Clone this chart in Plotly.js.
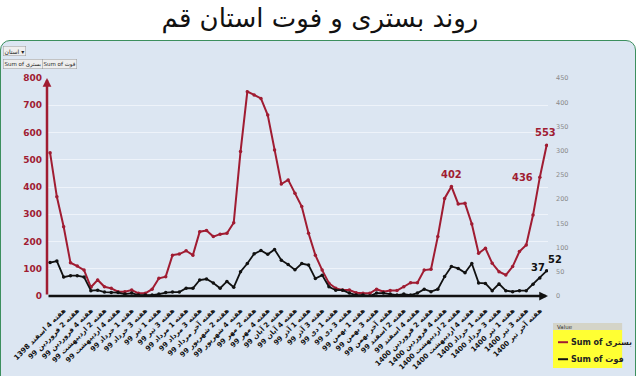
<!DOCTYPE html>
<html>
<head>
<meta charset="utf-8">
<script src="https://cdn.plot.ly/plotly-3.0.1.min.js"></script>
<style>
  html, body { margin:0; padding:0; width:640px; height:376px; overflow:hidden; background:#ffffff; }
  #panel { position:absolute; left:0px; top:40px; width:634px; height:360px; border:1.5px solid #3c8f5e; border-radius:10px; background:#dce6f2; }
  #chart { position:absolute; left:0; top:0; width:640px; height:376px; }
</style>
</head>
<body>
<div id="panel"></div>
<div id="chart"></div>
<script>
// Tick labels (every other week)
const weekLabels = [
  "هفته 1 و 2 اسفند 1398", "هفته 4 اسفند 1398", "هفته 2 فروردین 99", "هفته 4 فروردین 99",
  "هفته 2 اردیبهشت 99", "هفته 4 اردیبهشت 99", "هفته 1 خرداد 99", "هفته 3 خرداد 99",
  "هفته 1 تیر 99", "هفته 3 تیر 99", "هفته 1 مرداد 99", "هفته 3 مرداد 99",
  "هفته آخر مرداد 99", "هفته 2 شهریور 99", "هفته 4 شهریور 99", "هفته 2 مهر 99",
  "هفته 4 مهر 99", "هفته 2 آبان 99", "هفته 4 آبان 99", "هفته 1 آذر 99",
  "هفته 3 آذر 99", "هفته 1 دی 99", "هفته 3 دی 99", "هفته 1 بهمن 99",
  "هفته 3 بهمن 99", "هفته آخر بهمن 99", "هفته 2 اسفند 99", "هفته 4 اسفند 99",
  "هفته 2 فروردین 1400", "هفته 4 فروردین 1400", "هفته 2 اردیبهشت 1400", "هفته 4 اردیبهشت 1400",
  "هفته 1 خرداد 1400", "هفته 3 خرداد 1400", "هفته 1 تیر 1400", "هفته 3 تیر 1400",
  "هفته آخر تیر 1400"
];

// Weekly hospitalisations (بستری) - left axis
const hospital = [
  526, 364, 254, 122, 110, 95, 32, 59, 34, 28,
  16, 16, 22, 10, 10, 25, 65, 71, 150, 154,
  166, 150, 236, 240, 218, 227, 230, 269, 530, 750,
  738, 725, 664, 536, 411, 426, 377, 328, 230, 150,
  95, 47, 28, 22, 22, 12, 10, 10, 25, 16,
  20, 20, 34, 49, 49, 95, 98, 218, 358, 402,
  338, 340, 264, 157, 175, 120, 89, 77, 108, 163,
  187, 297, 436, 553
];

// Weekly deaths (فوت) - right axis
const deaths = [
  69, 72, 39, 42, 42, 39, 11, 12, 8, 7,
  7, 4, 6, 2, 2, 2, 4, 7, 8, 8,
  16, 16, 33, 35, 27, 16, 30, 18, 50, 67,
  87, 94, 86, 96, 74, 65, 54, 67, 64, 36,
  43, 19, 12, 12, 6, 2, 2, 0, 6, 6,
  4, 2, 4, 2, 6, 14, 9, 14, 40, 61,
  57, 48, 67, 27, 26, 11, 25, 11, 9, 11,
  11, 24, 37, 52
];

const weekIdx = hospital.map((_, i) => i);
const tickIdx = weekLabels.map((_, i) => i * 2);
const rtl = s => '\u202B' + s + '\u202C';

const RED = '#a01c32';
const BLACK = '#111111';
const FA = 'DejaVu Sans, sans-serif';
const NUM = 'DejaVu Sans Condensed, DejaVu Sans, sans-serif';

const traces = [
  { x: weekIdx, y: hospital, type: 'scatter', mode: 'lines+markers', name: 'Sum of بستری',
    line: { color: RED, width: 2 }, marker: { color: RED, size: 3.5 }, yaxis: 'y' },
  { x: weekIdx, y: deaths, type: 'scatter', mode: 'lines+markers', name: 'Sum of فوت',
    line: { color: BLACK, width: 1.8 }, marker: { color: BLACK, size: 3.5 }, yaxis: 'y2' }
];

const numFont = c => ({ family: NUM, size: 11, color: c, weight: 'bold', stretch: 'condensed' });
const annotations = [];
annotations.push({ x: 59, y: hospital[59], xref: 'x', yref: 'y', text: String(hospital[59]), showarrow: false,
  yanchor: 'bottom', yshift: 3, font: numFont(RED) });
annotations.push({ x: 72, y: hospital[72], xref: 'x', yref: 'y', text: String(hospital[72]), showarrow: false,
  xanchor: 'right', xshift: -5, font: numFont(RED) });
annotations.push({ x: 73, y: hospital[73], xref: 'x', yref: 'y', text: String(hospital[73]), showarrow: false,
  yanchor: 'bottom', xshift: -1, yshift: 4, font: numFont(RED) });
annotations.push({ x: 72, y: deaths[72], xref: 'x', yref: 'y2', text: String(deaths[72]), showarrow: false,
  yanchor: 'bottom', xshift: -2, yshift: 2, font: numFont(BLACK) });
annotations.push({ x: 73, y: deaths[73], xref: 'x', yref: 'y2', text: String(deaths[73]), showarrow: false,
  yanchor: 'bottom', xanchor: 'left', xshift: -1, yshift: 3, font: numFont(BLACK) });

// axis arrows
annotations.push({ x: 0, y: 1, xref: 'paper', yref: 'paper', ax: 0, ay: 218, axref: 'pixel', ayref: 'pixel',
  showarrow: true, arrowhead: 2, arrowsize: 0.7, arrowwidth: 2.5, arrowcolor: RED, text: '' });
annotations.push({ x: 1, y: 0, xref: 'paper', yref: 'paper', ax: -501, ay: 0, axref: 'pixel', ayref: 'pixel',
  showarrow: true, arrowhead: 2, arrowsize: 0.7, arrowwidth: 2.5, arrowcolor: BLACK, text: '' });

// pivot field buttons
annotations.push({ x: -0.088, y: 1.125, xref: 'paper', yref: 'paper', xanchor: 'left', yanchor: 'middle',
  text: 'استان ▾', showarrow: false, bgcolor: '#eeeeee', bordercolor: '#999999', borderwidth: 0.5, borderpad: 1,
  font: { family: FA, size: 6, color: '#222' } });
annotations.push({ x: -0.088, y: 1.065, xref: 'paper', yref: 'paper', xanchor: 'left', yanchor: 'middle',
  text: 'Sum of بستری', showarrow: false, bgcolor: '#eeeeee', bordercolor: '#999999', borderwidth: 0.5, borderpad: 1,
  font: { family: FA, size: 5.5, color: '#222' } });
annotations.push({ x: -0.01, y: 1.065, xref: 'paper', yref: 'paper', xanchor: 'left', yanchor: 'middle',
  text: 'Sum of فوت', showarrow: false, bgcolor: '#eeeeee', bordercolor: '#999999', borderwidth: 0.5, borderpad: 1,
  font: { family: FA, size: 5.5, color: '#222' } });

// custom legend box text
annotations.push({ x: 1.013, y: -0.14, xref: 'paper', yref: 'paper', xanchor: 'left', yanchor: 'middle',
  text: 'Value', showarrow: false, font: { family: FA, size: 5.5, color: '#333' } });
annotations.push({ x: 1.042, y: -0.212, xref: 'paper', yref: 'paper', xanchor: 'left', yanchor: 'middle',
  text: 'Sum of بستری', showarrow: false, font: { family: FA, size: 8, color: '#222', weight: 'bold' } });
annotations.push({ x: 1.042, y: -0.29, xref: 'paper', yref: 'paper', xanchor: 'left', yanchor: 'middle',
  text: 'Sum of فوت', showarrow: false, font: { family: FA, size: 8, color: '#222', weight: 'bold' } });

const shapes = [
  { type: 'rect', xref: 'paper', yref: 'paper', x0: 1.010, x1: 1.148, y0: -0.124, y1: -0.156,
    fillcolor: '#d4d4c8', line: { width: 0 } },
  { type: 'rect', xref: 'paper', yref: 'paper', x0: 1.010, x1: 1.148, y0: -0.156, y1: -0.330,
    fillcolor: '#ffff33', line: { width: 0 } },
  { type: 'line', xref: 'paper', yref: 'paper', x0: 1.02, x1: 1.04, y0: -0.212, y1: -0.212,
    line: { color: RED, width: 2 } },
  { type: 'line', xref: 'paper', yref: 'paper', x0: 1.02, x1: 1.04, y0: -0.29, y1: -0.29,
    line: { color: BLACK, width: 2 } }
];

const layout = {
  width: 640, height: 376,
  margin: { l: 47, r: 92, t: 78, b: 80, pad: 0 },
  paper_bgcolor: 'rgba(0,0,0,0)',
  plot_bgcolor: 'rgba(0,0,0,0)',
  showlegend: false,
  title: { text: 'روند بستری و فوت استان قم', x: 0.5, xanchor: 'center', y: 0.952, yanchor: 'middle',
    font: { family: FA, size: 26, color: '#111' } },
  xaxis: {
    range: [-0.45, 73.2], tickmode: 'array', tickvals: tickIdx, ticktext: weekLabels.map(rtl),
    tickangle: -45, tickfont: { family: FA, size: 7, color: '#111', weight: 'bold' },
    showgrid: false, zeroline: false, showline: false, ticks: '', ticklabelstandoff: 8
  },
  yaxis: {
    range: [0, 800], dtick: 100, tickfont: { family: FA, size: 9, color: RED, weight: 'bold' },
    gridcolor: '#eef3fa', gridwidth: 1, zeroline: false, showline: false, ticks: '', ticklabelstandoff: 4
  },
  yaxis2: {
    range: [0, 450], dtick: 50, overlaying: 'y', side: 'right',
    tickfont: { family: FA, size: 6.5, color: '#8a8a8a' },
    showgrid: false, zeroline: false, showline: false, ticks: '', ticklabelstandoff: 7
  },
  annotations: annotations,
  shapes: shapes
};

Plotly.newPlot('chart', traces, layout, { displayModeBar: false, staticPlot: true });
</script>
</body>
</html>
